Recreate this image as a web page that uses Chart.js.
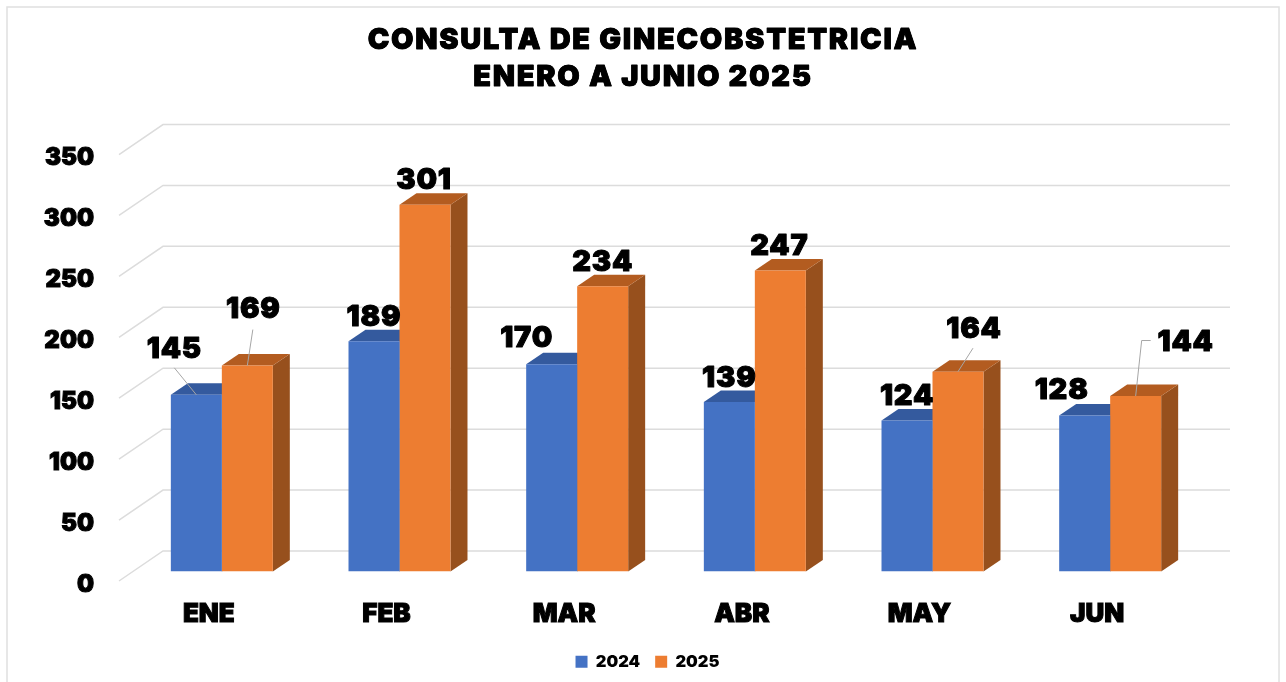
<!DOCTYPE html>
<html>
<head>
<meta charset="utf-8">
<style>
  html, body { margin: 0; padding: 0; background: #fff; overflow: hidden; }
  canvas { display: block; }
</style>
<script src="https://cdn.jsdelivr.net/npm/chart.js@4"></script>
</head>
<body>
<canvas id="chart" width="1286" height="682"></canvas>
<script>
const titleLines = ['CONSULTA DE GINECOBSTETRICIA', 'ENERO A JUNIO 2025'];
const months = ['ENE', 'FEB', 'MAR', 'ABR', 'MAY', 'JUN'];
const values2024 = [145, 189, 170, 139, 124, 128];
const values2025 = [169, 301, 234, 247, 164, 144];

const FONT = 'Inter';
const INK = '#000000';
const BLUE = '#4472c4', BLUE_TOP = '#345a9e', BLUE_SIDE = '#2f5597';
const ORANGE = '#ed7d31', ORANGE_TOP = '#b35c20', ORANGE_SIDE = '#97501d';
const TITLE_SPACING = '1.7px';

// where each value label sits, relative to the top centre of its bar
const labelShift = [
    [[-22, -46], [0, -24], [-25, -26], [0, -24], [0, -24], [-23, -25]],
    [[6, -56], [-1, -24.5], [0, -24.5], [-1, -24.5], [16, -42.6], [50, -54]]
];
// leader lines, same reference point; empty when the label sits on its bar
const leaders = [
    [[[-22, -27], [0, 0]], [], [], [], [], []],
    [[[5.5, -36], [0, 0]], [], [], [], [[15, -23.5], [0, 0]], [[15, -55.5], [6, -55.5], [0, 0]]]
];

function outlined(ctx, text, x, y, size, stroke) {
    ctx.font = `900 ${size}px ${FONT}`;
    ctx.lineJoin = 'round';
    ctx.lineWidth = stroke;
    ctx.strokeStyle = INK;
    ctx.fillStyle = INK;
    ctx.strokeText(text, x, y);
    ctx.fillText(text, x, y);
}

const scene3d = {
    id: 'scene3d',
    beforeDraw(chart) {
        // the y labels sit left of the padded scale box, so widen what they get clipped to
        chart.scales.y.left = 0;
        // legend runs a little right of centre in the original
        chart.legend.left += 4.5;
        chart.legend.right += 4.5;
        // title plugin has no letter spacing option
        const box = chart.titleBlock;
        const drawTitle = box.draw.bind(box);
        box.draw = () => {
            chart.ctx.letterSpacing = TITLE_SPACING;
            drawTitle();
            chart.ctx.letterSpacing = '0px';
        };
    },
    beforeDatasetsDraw(chart) {
        const { ctx } = chart;
        const y = chart.scales.y;
        ctx.save();

        // frame of the original picture
        ctx.strokeStyle = '#e0e0e0';
        ctx.lineWidth = 1.5;
        ctx.strokeRect(7, 7, 1272, 700);

        // floor and wall lines
        ctx.strokeStyle = '#dcdcdc';
        ctx.lineWidth = 1.5;
        y.ticks.forEach(tick => {
            const p = y.getPixelForValue(tick.value);
            ctx.beginPath();
            ctx.moveTo(119, p + 9.5);
            ctx.lineTo(163, p - 20.5);
            ctx.lineTo(1230, p - 20.5);
            ctx.stroke();
        });

        // top and side faces
        const dx = 17, dy = -11.5;
        [[0, BLUE_TOP, BLUE_SIDE], [1, ORANGE_TOP, ORANGE_SIDE]].forEach(([index, topColor, sideColor]) => {
            chart.getDatasetMeta(index).data.forEach(bar => {
                const left = bar.x - bar.width / 2;
                const right = bar.x + bar.width / 2;
                ctx.fillStyle = sideColor;
                ctx.beginPath();
                ctx.moveTo(right, bar.y);
                ctx.lineTo(right + dx, bar.y + dy);
                ctx.lineTo(right + dx, bar.base + dy);
                ctx.lineTo(right, bar.base);
                ctx.closePath();
                ctx.fill();
                ctx.fillStyle = topColor;
                ctx.beginPath();
                ctx.moveTo(left, bar.y);
                ctx.lineTo(left + dx, bar.y + dy);
                ctx.lineTo(right + dx, bar.y + dy);
                ctx.lineTo(right, bar.y);
                ctx.closePath();
                ctx.fill();
            });
        });
        ctx.restore();
    },
    afterDatasetsDraw(chart) {
        const { ctx } = chart;
        ctx.save();

        // leader lines
        ctx.strokeStyle = '#a6a6a6';
        ctx.lineWidth = 1;
        leaders.forEach((rows, index) => {
            const bars = chart.getDatasetMeta(index).data;
            rows.forEach((points, i) => {
                if (!points.length) return;
                ctx.beginPath();
                points.forEach(([sx, sy], k) => {
                    if (k === 0) ctx.moveTo(bars[i].x + sx, bars[i].y + sy);
                    else ctx.lineTo(bars[i].x + sx, bars[i].y + sy);
                });
                ctx.stroke();
            });
        });

        // value labels
        ctx.letterSpacing = '0.8px';
        ctx.textAlign = 'center';
        ctx.textBaseline = 'middle';
        chart.data.datasets.forEach((dataset, index) => {
            const bars = chart.getDatasetMeta(index).data;
            dataset.data.forEach((value, i) => {
                const [sx, sy] = labelShift[index][i];
                outlined(ctx, String(value), bars[i].x + sx, bars[i].y + sy, 29, 1);
            });
        });
        ctx.letterSpacing = '0px';
        ctx.restore();
    },
    afterDraw(chart) {
        // thicken the title in place
        const box = chart.titleBlock;
        const { ctx } = chart;
        const opts = box.options;
        const lineHeight = opts.font.size * opts.font.lineHeight;
        ctx.save();
        ctx.letterSpacing = TITLE_SPACING;
        ctx.textAlign = 'center';
        ctx.textBaseline = 'middle';
        titleLines.forEach((line, i) => {
            const cy = box.top + opts.padding.top + lineHeight * (i + 0.5);
            outlined(ctx, line, (box.left + box.right) / 2, cy, opts.font.size, 0.8);
        });
        ctx.letterSpacing = '0px';
        ctx.restore();
    }
};

new Chart(document.getElementById('chart'), {
    type: 'bar',
    data: {
        labels: months,
        datasets: [
            { label: '2024', data: values2024, backgroundColor: BLUE, barPercentage: 1, categoryPercentage: 0.574 },
            { label: '2025', data: values2025, backgroundColor: ORANGE, barPercentage: 1, categoryPercentage: 0.574 }
        ]
    },
    options: {
        responsive: false,
        animation: false,
        layout: { padding: { left: 87, right: 87, top: 22, bottom: 2 } },
        plugins: {
            title: {
                display: true,
                text: titleLines,
                color: INK,
                font: { family: FONT, size: 29, weight: '900', lineHeight: 1.276 },
                padding: { top: 0, bottom: 49 }
            },
            legend: {
                position: 'bottom',
                labels: {
                    boxWidth: 12,
                    boxHeight: 12,
                    padding: 15,
                    color: INK,
                    font: { family: FONT, size: 16.5, weight: '900' }
                }
            },
            tooltip: { enabled: false }
        },
        scales: {
            x: {
                grid: { display: false },
                border: { display: false },
                ticks: {
                    color: INK,
                    padding: 19,
                    labelOffset: -13,
                    maxRotation: 0,
                    textStrokeColor: INK,
                    textStrokeWidth: 1,
                    font: { family: FONT, size: 26, weight: '900' }
                },
                afterFit(scale) { scale.height = 67; }
            },
            y: {
                min: 0,
                max: 350,
                grid: { display: false },
                border: { display: false },
                ticks: {
                    stepSize: 50,
                    color: INK,
                    padding: 31,
                    labelOffset: 13,
                    textStrokeColor: INK,
                    textStrokeWidth: 1,
                    font: { family: FONT, size: 24, weight: '900' }
                },
                afterFit(scale) { scale.width = 46; }
            }
        }
    },
    plugins: [scene3d]
});
</script>
</body>
</html>
